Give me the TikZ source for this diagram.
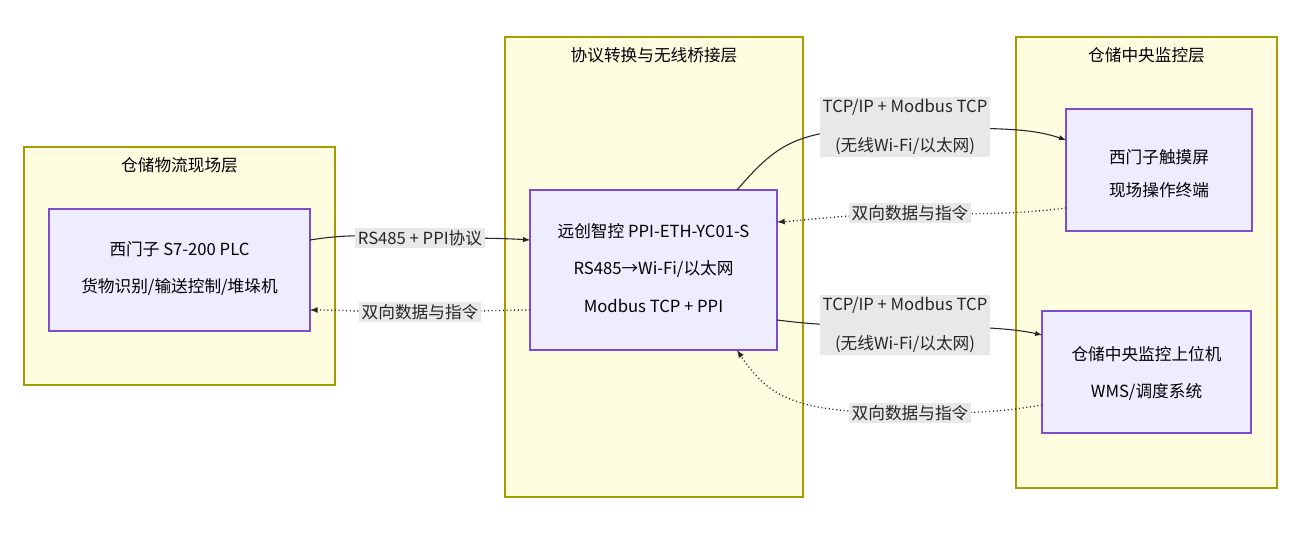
\documentclass[tikz,border=0pt]{standalone}
\usepackage{fontspec}
\setmainfont{Noto Sans CJK SC}
\begin{document}
\begin{tikzpicture}[x=0.75pt,y=-0.75pt,font=\fontsize{12.5}{15}\selectfont,
 grp/.style={draw=olive!80!yellow,fill=yellow!12,line width=0.8pt},
 box/.style={draw=violet!55!blue!70,fill=blue!7,line width=0.8pt},
 lab/.style={fill=gray!18,inner sep=2pt,text=black!85,align=center},
 e/.style={draw=black!85,line width=0.8pt,-latex},
 d/.style={e,dotted,line width=1pt}]
\useasboundingbox (0,0) rectangle (1301,534);
\draw[grp] (24,147) rectangle (335,385);
\draw[grp] (505,37) rectangle (803,497);
\draw[grp] (1016,37) rectangle (1277,488);
\node at (179.5,165) {仓储物流现场层};
\node at (654,55) {协议转换与无线桥接层};
\node at (1146.5,55) {仓储中央监控层};
\draw[box] (49,209) rectangle (310,331);
\node (p1) at (179.5,249) {西门子 S7-200 PLC};
\node (p2) at (179.5,287) {货物识别/输送控制/堆垛机};
\draw[box] (530,190) rectangle (777,350);
\node at (653.5,231) {远创智控 PPI-ETH-YC01-S};
\node at (653.5,269) {RS485→Wi-Fi/以太网};
\node at (653.5,306) {Modbus TCP + PPI};
\draw[box] (1066,109) rectangle (1252,231);
\node at (1159,157) {西门子触摸屏};
\node at (1159,190) {现场操作终端};
\draw[box] (1042,311) rectangle (1251,433);
\node at (1146.5,354) {仓储中央监控上位机};
\node at (1146.5,392) {WMS/调度系统};
\coordinate (a1) at (310,240); \coordinate (a2) at (530,240);
\coordinate (b1) at (530,310); \coordinate (b2) at (310,310);
\coordinate (c1) at (737,190); \coordinate (c2) at (1066,140);
\coordinate (f1) at (1066,208); \coordinate (f2) at (777,222);
\coordinate (g1) at (777,320); \coordinate (g2) at (1042,335);
\coordinate (h1) at (1042,405); \coordinate (h2) at (737,350);
\draw[e] (a1) .. controls (360,232) and (380,238) .. (420,238) .. controls (470,238) and (500,238) .. (a2);
\draw[d] (b1) .. controls (500,310) and (460,312) .. (420,312) .. controls (370,312) and (340,310) .. (b2);
\draw[e] (c1) .. controls (780,140) and (800,128) .. (905,128) .. controls (1000,128) and (1030,128) .. (c2);
\draw[d] (f1) .. controls (1020,214) and (980,214) .. (910,214) .. controls (850,214) and (810,220) .. (f2);
\draw[e] (g1) .. controls (810,324) and (830,326) .. (905,326) .. controls (990,326) and (1020,330) .. (g2);
\draw[d] (h1) .. controls (1000,412) and (980,413) .. (910,413) .. controls (800,413) and (770,400) .. (h2);
\node[lab] at (420,238) {RS485 + PPI协议};
\node[lab] at (420,312) {双向数据与指令};
\node[lab,font=\fontsize{12.5}{29}\selectfont] at (905,127) {TCP/IP + Modbus TCP\\(无线Wi-Fi/以太网)};
\node[lab] at (910,213) {双向数据与指令};
\node[lab,font=\fontsize{12.5}{29}\selectfont] at (905,325) {TCP/IP + Modbus TCP\\(无线Wi-Fi/以太网)};
\node[lab] at (910,413) {双向数据与指令};
\end{tikzpicture}
\end{document}
